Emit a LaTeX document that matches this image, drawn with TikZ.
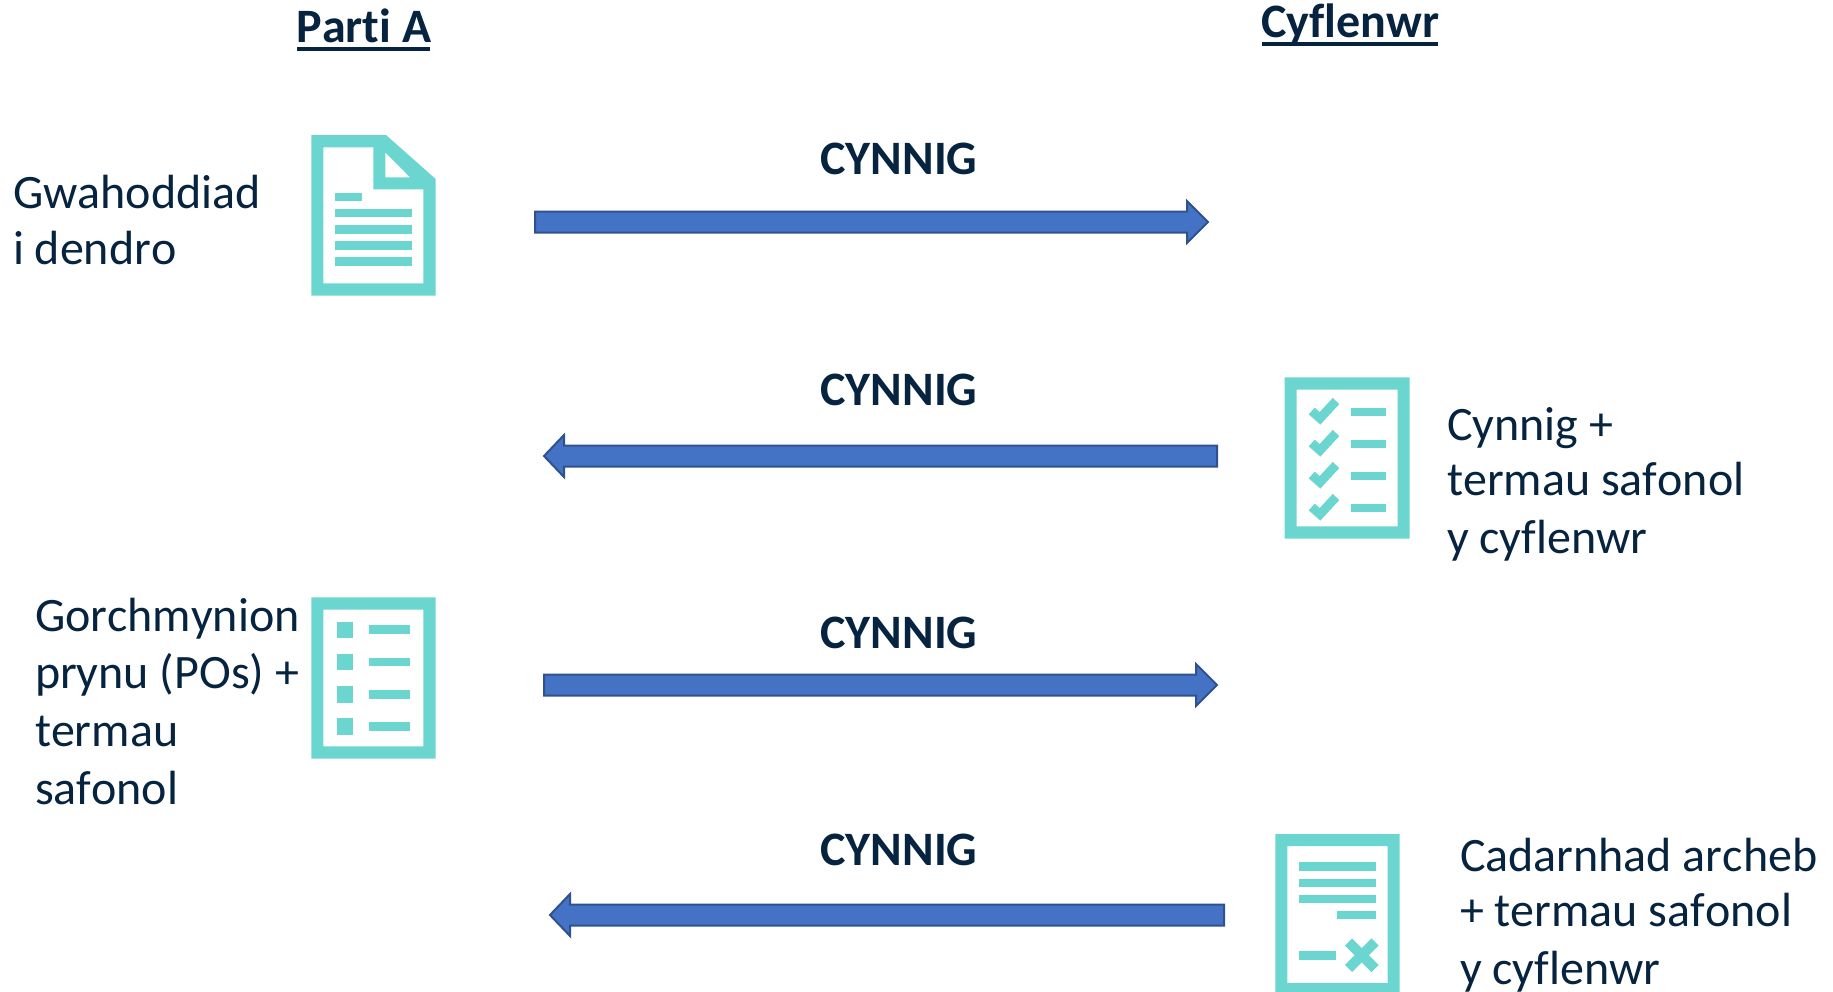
\documentclass[tikz,border=0pt]{standalone}
\usepackage{fontspec}
\setmainfont[Ligatures=NoCommon,Kerning=Off]{Carlito}
\definecolor{teal1}{HTML}{6BD5CF}
\definecolor{navy1}{HTML}{06233F}
\definecolor{arrowfill}{HTML}{4472C4}
\definecolor{arrowline}{HTML}{2F528F}
\tikzset{
  body/.style={anchor=base west,inner sep=0pt,outer sep=0pt,text=navy1,font=\fontsize{48}{58}\selectfont},
  head/.style={anchor=base,inner sep=0pt,outer sep=0pt,text=navy1,font=\fontsize{48}{58}\selectfont\bfseries},
  bigarrow/.style={fill=arrowfill,draw=arrowline,line width=2pt,line join=miter},
  ink/.style={fill=teal1,draw=none},
  bar/.style={draw=teal1,line width=8.5pt},
  tick/.style={draw=teal1,line width=9pt,line join=miter}
}
\newcommand{\rarrow}[3]{\draw[bigarrow] (#1,#3-10.5) -- (#2-21,#3-10.5) -- (#2-21,#3-21) -- (#2,#3) -- (#2-21,#3+21) -- (#2-21,#3+10.5) -- (#1,#3+10.5) -- cycle;}
\newcommand{\larrow}[3]{\draw[bigarrow] (#1,#3-10.5) -- (#2+20,#3-10.5) -- (#2+20,#3-21) -- (#2,#3) -- (#2+20,#3+21) -- (#2+20,#3+10.5) -- (#1,#3+10.5) -- cycle;}
\begin{document}
\begin{tikzpicture}[x=1pt,y=-1pt]
\useasboundingbox (0,0) rectangle (1833,991);
\node[head] (partia) at (364,42.5) {Parti A};
\node[head] (cyflenwr) at (1350.5,37.5) {Cyflenwr};
\draw[navy1,line width=3.4pt] (297,49) -- (430,49);
\draw[navy1,line width=3.4pt] (1262,44) -- (1438,44);
\node[head] (c1) at (899,174) {CYNNIG};
\node[head] (c2) at (899,405) {CYNNIG};
\node[head] (c3) at (899,648) {CYNNIG};
\node[head] (c4) at (899,865) {CYNNIG};
\rarrow{535}{1208}{222}
\larrow{1217}{544}{456}
\rarrow{544}{1217}{685}
\larrow{1224}{550}{915}
\node[body] (t1a) at (13,208) {Gwahoddiad};
\node[body] (t1b) at (13,264) {i dendro};
\node[body] (t2a) at (1447,440) {Cynnig +};
\node[body] (t2b) at (1447,495) {termau safonol};
\node[body] (t2c) at (1447,553.5) {y cyflenwr};
\node[body] (t3a) at (35,631) {Gorchmynion};
\node[body] (t3b) at (35,688) {prynu (POs) +};
\node[body] (t3c) at (35,746) {termau};
\node[body] (t3d) at (35,804.5) {safonol};
\node[body] (t4a) at (1460,871) {Cadarnhad archeb};
\node[body] (t4b) at (1460,926) {+ termau safonol};
\node[body] (t4c) at (1460,984) {y cyflenwr};
\fill[ink,even odd rule] (311.3,135) -- (386,135) -- (435.7,179) -- (435.7,295.7) -- (311.3,295.7) -- cycle
  (323.3,147.3) -- (373.3,147.3) -- (373.3,189.3) -- (423.3,189.3) -- (423.3,283.3) -- (323.3,283.3) -- cycle
  (385.3,152.3) -- (410,177.3) -- (385.3,177.3) -- cycle;
\draw[bar] (335,197) -- (361.7,197);
\foreach \yy in {213,229.3,245.3,261.3} \draw[bar] (335,\yy) -- (411.7,\yy);
\fill[ink,even odd rule] (1284.7,377.3) rectangle (1409.7,538.7) (1296.7,389.7) rectangle (1397.7,526.3);
\foreach \dy in {0,32,64,96} {
  \draw[bar] (1351,412+\dy) -- (1385.7,412+\dy);
  \draw[tick] (1311.7,411+\dy) -- (1320,418.3+\dy) -- (1336,401+\dy);
}
\fill[ink,even odd rule] (311.3,597.3) rectangle (435.7,758.7) (323.3,609.7) rectangle (423.3,746.3);
\foreach \dy in {0,32.3,64.6,96.6} {
  \fill[ink] (337,621.7+\dy) rectangle (353.3,638+\dy);
  \draw[bar] (369,629.7+\dy) -- (409.7,629.7+\dy);
}
\begin{scope}
\clip (1200,800) rectangle (1500,991);
\fill[ink,even odd rule] (1275.3,834) rectangle (1399.7,996) (1287.3,846) rectangle (1387.7,983);
\end{scope}
\foreach \yy in {866.7,883,899} \draw[bar] (1299,\yy) -- (1375.7,\yy);
\draw[bar] (1337.3,915) -- (1375.7,915);
\draw[bar] (1299,955.3) -- (1335.7,955.3);
\draw[draw=teal1,line width=10pt] (1348.5,942) -- (1375,968.5);
\draw[draw=teal1,line width=10pt] (1375,942) -- (1348.5,968.5);
\end{tikzpicture}
\end{document}
